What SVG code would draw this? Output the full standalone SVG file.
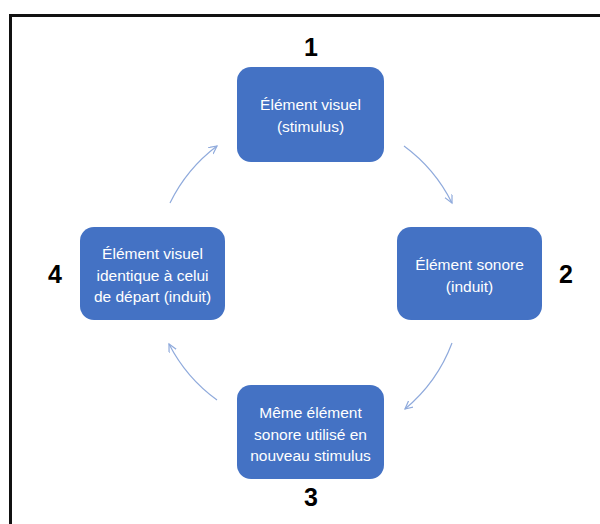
<svg xmlns="http://www.w3.org/2000/svg" width="600" height="524" viewBox="0 0 600 524">
  <style>
    .box { fill: #4472C4; }
    .lbl { fill: #ffffff; font-family: "Liberation Sans", Arial, sans-serif; font-size: 15.5px; text-anchor: middle; }
    .num { fill: #000000; font-family: "Liberation Sans", Arial, sans-serif; font-size: 25px; font-weight: bold; text-anchor: middle; }
    .arc { fill: none; stroke: #8FAADC; stroke-width: 1.2; marker-end: url(#arrow); }
  </style>
  <defs>
    <marker id="arrow" markerWidth="10" markerHeight="10" refX="8" refY="4" orient="auto" markerUnits="userSpaceOnUse">
      <path d="M0,0 L8,4 L0,8" fill="none" stroke="#8FAADC" stroke-width="1.2"/>
    </marker>
  </defs>
  <rect x="0" y="0" width="600" height="524" fill="#ffffff"/>
  <path d="M10.5 524 V15.5 H600" fill="none" stroke="#111111" stroke-width="3"/>

  <g id="connectors">
    <path class="arc" d="M404 146 A158 158 0 0 1 452 203"/>
    <path class="arc" d="M452 343 A158 158 0 0 1 405 409"/>
    <path class="arc" d="M217 400 A158 158 0 0 1 169 344"/>
    <path class="arc" d="M170 203 A158 158 0 0 1 217 146"/>
  </g>

  <g id="node1">
    <rect class="box" x="237" y="67" width="147" height="95" rx="14"/>
    <text class="lbl" x="310.5" y="110">Élément visuel</text>
    <text class="lbl" x="310.5" y="132">(stimulus)</text>
    <text class="num" x="311" y="56">1</text>
  </g>

  <g id="node2">
    <rect class="box" x="397" y="227" width="145" height="93" rx="14"/>
    <text class="lbl" x="469.5" y="270">Élément sonore</text>
    <text class="lbl" x="469.5" y="292">(induit)</text>
    <text class="num" x="566" y="283">2</text>
  </g>

  <g id="node3">
    <rect class="box" x="237" y="385" width="147" height="94" rx="14"/>
    <text class="lbl" x="310.5" y="418">Même élément</text>
    <text class="lbl" x="310.5" y="439.5">sonore utilisé en</text>
    <text class="lbl" x="310.5" y="461">nouveau stimulus</text>
    <text class="num" x="311" y="506">3</text>
  </g>

  <g id="node4">
    <rect class="box" x="80" y="227" width="145" height="93" rx="14"/>
    <text class="lbl" x="152.5" y="259">Élément visuel</text>
    <text class="lbl" x="152.5" y="280.5">identique à celui</text>
    <text class="lbl" x="152.5" y="302">de départ (induit)</text>
    <text class="num" x="55" y="283">4</text>
  </g>
</svg>
